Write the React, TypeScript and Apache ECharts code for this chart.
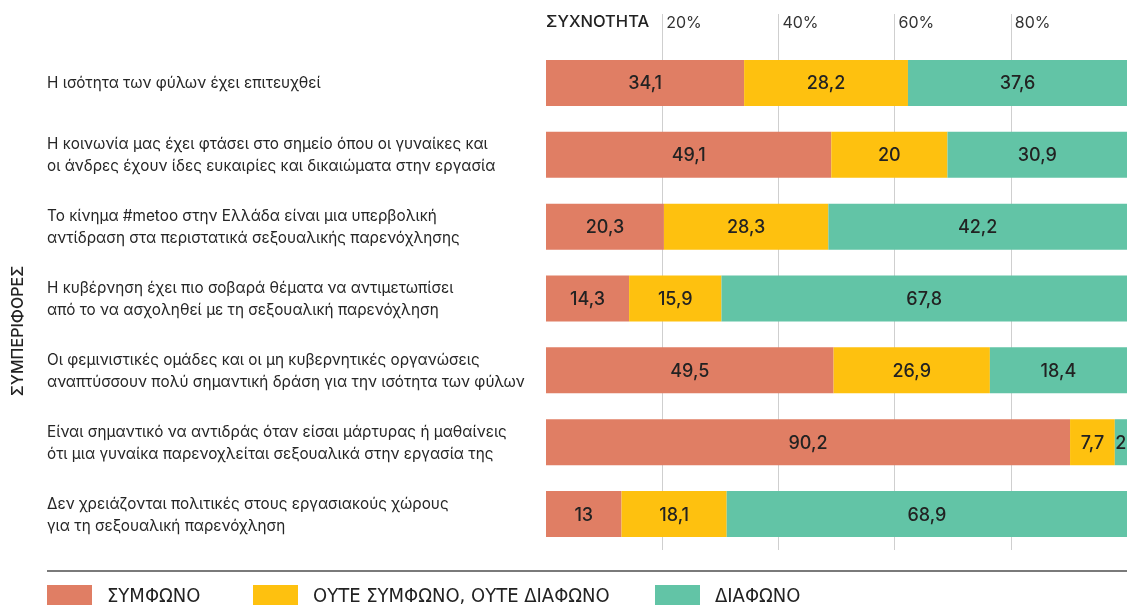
import React, { useEffect, useRef } from "react";
import * as echarts from "echarts";

const categories = [
  "Η ισότητα των φύλων έχει επιτευχθεί",
  "Η κοινωνία μας έχει φτάσει στο σημείο όπου οι γυναίκες και\nοι άνδρες έχουν ίδες ευκαιρίες και δικαιώματα στην εργασία",
  "Το κίνημα #metoo στην Ελλάδα είναι μια υπερβολική\nαντίδραση στα περιστατικά σεξουαλικής παρενόχλησης",
  "Η κυβέρνηση έχει πιο σοβαρά θέματα να αντιμετωπίσει\nαπό το να ασχοληθεί με τη σεξουαλική παρενόχληση",
  "Οι φεμινιστικές ομάδες και οι μη κυβερνητικές οργανώσεις\nαναπτύσσουν πολύ σημαντική δράση για την ισότητα των φύλων",
  "Είναι σημαντικό να αντιδράς όταν είσαι μάρτυρας ή μαθαίνεις\nότι μια γυναίκα παρενοχλείται σεξουαλικά στην εργασία της",
  "Δεν χρειάζονται πολιτικές στους εργασιακούς χώρους\nγια τη σεξουαλική παρενόχληση",
];

const seriesNames = ["ΣΥΜΦΩΝΟ", "ΟΥΤΕ ΣΥΜΦΩΝΟ, ΟΥΤΕ ΔΙΑΦΩΝΟ", "ΔΙΑΦΩΝΟ"];

const agree = [34.1, 49.1, 20.3, 14.3, 49.5, 90.2, 13];
const neutral = [28.2, 20, 28.3, 15.9, 26.9, 7.7, 18.1];
// printed labels of the "disagree" segments
const disagreeLabels = [37.6, 30.9, 42.2, 67.8, 18.4, 2, 68.9];
// drawn widths of the "disagree" segments
const disagreeWidths = [37.7, 30.9, 51.4, 69.8, 23.6, 2.1, 68.9];

const tickValues = [20, 40, 60, 80];

const colors = ["#e07e64", "#fec10f", "#62c4a6"];

const FONT = "Inter, 'Noto Sans', sans-serif";
const NARROW = "'Liberation Sans Narrow', 'DejaVu Sans Condensed', sans-serif";

const fmt = (v: number) => String(v).replace(".", ",");

export default function App() {
  const ref = useRef<HTMLDivElement>(null);
  useEffect(() => {
    if (!ref.current) return;
    const chart = echarts.init(ref.current, undefined, { renderer: "svg" });
    const labelStyle = {
      show: true,
      position: "inside",
      color: "#222",
      fontSize: 18,
      fontFamily: FONT,
      fontWeight: 500,
    };
    const legendBase = {
      top: 585,
      padding: 0,
      itemWidth: 45,
      itemHeight: 20,
      icon: "rect",
      selectedMode: false,
      textStyle: {
        fontFamily: NARROW,
        fontSize: 20,
        color: "#222",
        padding: [0, 0, 0, 10],
      },
    };
    chart.setOption({
      animation: false,
      color: colors,
      grid: { left: 546, right: 0, top: 47, bottom: 55, containLabel: false },
      xAxis: {
        type: "value",
        position: "top",
        min: 0,
        max: 100,
        interval: 20,
        axisLine: { show: false },
        axisTick: {
          show: true,
          length: 33,
          customValues: tickValues,
          lineStyle: { color: "#cfcfcf", width: 1 },
        },
        axisLabel: {
          customValues: tickValues,
          formatter: (v: number) => v + "%",
          align: "left",
          verticalAlign: "middle",
          margin: 25,
          padding: [0, 0, 0, 4],
          color: "#333",
          fontSize: 16,
          fontFamily: FONT,
        },
        splitLine: {
          show: true,
          lineStyle: { color: "#cfcfcf", width: 1 },
        },
      },
      yAxis: {
        type: "category",
        inverse: true,
        data: categories,
        axisLine: { show: false },
        axisTick: { show: false },
        axisLabel: {
          align: "left",
          margin: 499,
          color: "#262626",
          fontSize: 15.3,
          lineHeight: 22,
          fontFamily: FONT,
        },
      },
      legend: [
        { ...legendBase, left: 47, data: [seriesNames[0]] },
        { ...legendBase, left: 253, data: [seriesNames[1]] },
        { ...legendBase, left: 655, data: [seriesNames[2]] },
      ],
      graphic: [
        {
          type: "text",
          left: 546,
          top: 12,
          style: {
            text: "ΣΥΧΝΟΤΗΤΑ",
            fontSize: 16.5,
            fontWeight: 500,
            fontFamily: FONT,
            fill: "#222",
          },
        },
        {
          type: "text",
          x: 17,
          y: 331,
          rotation: Math.PI / 2,
          style: {
            text: "ΣΥΜΠΕΡΙΦΟΡΕΣ",
            fontSize: 16,
            fontWeight: 500,
            fontFamily: FONT,
            fill: "#222",
            align: "center",
            verticalAlign: "middle",
          },
        },
        {
          type: "line",
          shape: { x1: 47, y1: 571, x2: 1127, y2: 571 },
          style: { stroke: "#7a7a7a", lineWidth: 2 },
        },
      ],
      series: [
        {
          name: seriesNames[0],
          type: "bar",
          stack: "total",
          barWidth: 46,
          data: agree,
          label: { ...labelStyle, formatter: (p: any) => fmt(p.value) },
        },
        {
          name: seriesNames[1],
          type: "bar",
          stack: "total",
          barWidth: 46,
          data: neutral,
          label: { ...labelStyle, formatter: (p: any) => fmt(p.value) },
        },
        {
          name: seriesNames[2],
          type: "bar",
          stack: "total",
          barWidth: 46,
          data: disagreeWidths,
          label: {
            ...labelStyle,
            formatter: (p: any) => fmt(disagreeLabels[p.dataIndex]),
          },
        },
      ],
    });
    return () => chart.dispose();
  }, []);
  return (
    <div
      ref={ref}
      style={{ position: "fixed", left: 0, top: 0, width: 1127, height: 605 }}
    />
  );
}
